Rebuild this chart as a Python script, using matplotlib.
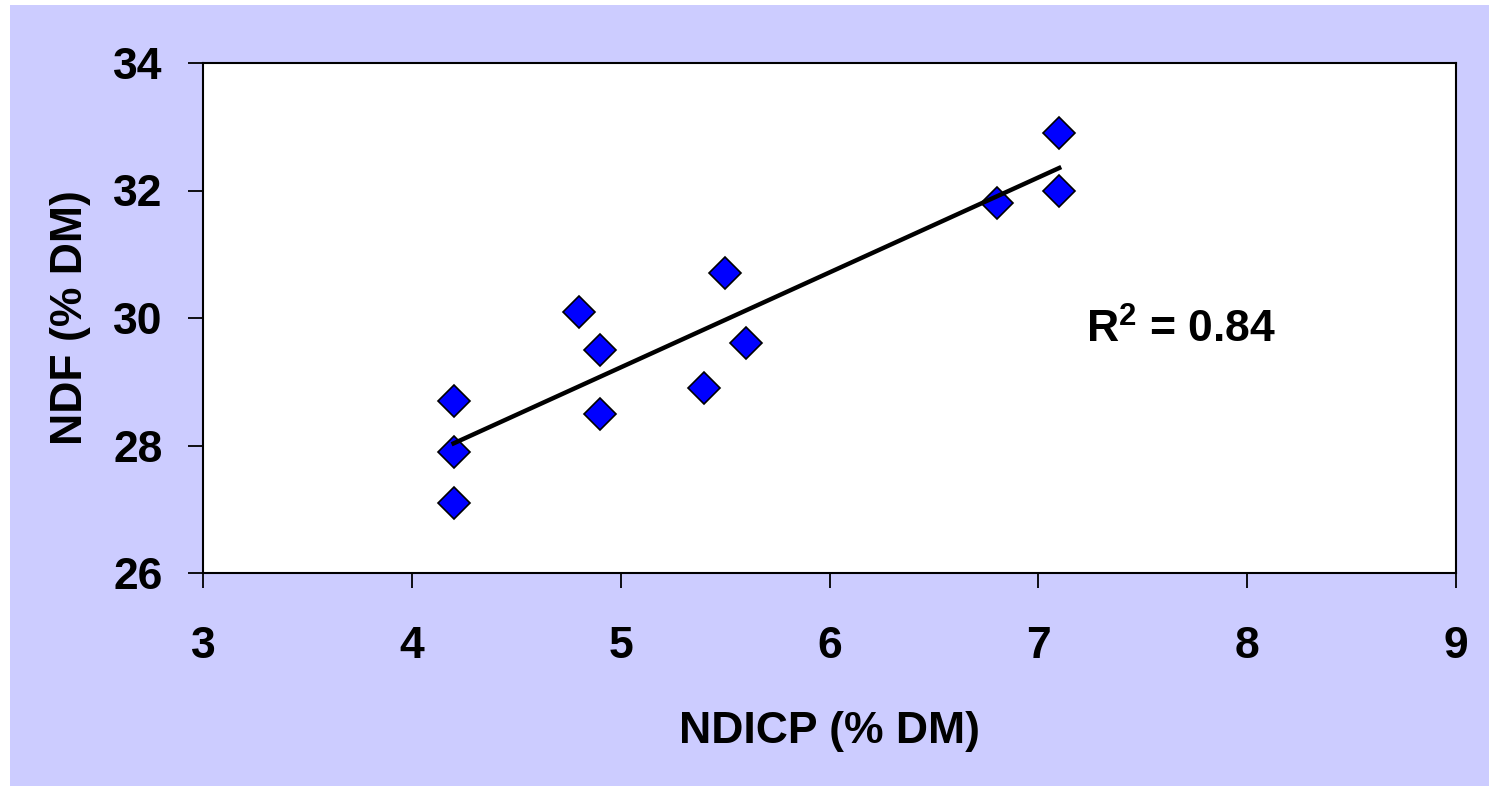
import numpy as np
import matplotlib
matplotlib.use('Agg')
import matplotlib.pyplot as plt
from matplotlib.patches import Rectangle

plt.rcParams['font.family'] = 'Liberation Sans'
plt.rcParams['font.weight'] = 'bold'
plt.rcParams['mathtext.fontset'] = 'custom'
plt.rcParams['mathtext.rm'] = 'Liberation Sans:bold'
plt.rcParams['mathtext.bf'] = 'Liberation Sans:bold'

# Dados
ndicp = [4.2, 4.2, 4.2, 4.8, 4.9, 4.9, 5.4, 5.5, 5.6, 6.8, 7.1, 7.1]
ndf = [28.7, 27.9, 27.1, 30.1, 29.5, 28.5, 28.9, 30.7, 29.6, 31.8, 32.9, 32.0]
x_ticks = [3, 4, 5, 6, 7, 8, 9]
y_ticks = [26, 28, 30, 32, 34]
r2_text = 'R$^{2}$ = 0.84'

fig = plt.figure(figsize=(14.89, 7.86), dpi=100)
fig.patch.set_facecolor('white')
fig.patches.append(Rectangle((10 / 1489, -0.01), 1, 1.01 - 5 / 786, transform=fig.transFigure,
                             facecolor='#CCCCFF', edgecolor='none', zorder=-1))

ax = fig.add_axes([203 / 1489, 1 - 573 / 786, (1456 - 203) / 1489, (573 - 63) / 786])
ax.set_facecolor('white')

ax.plot(ndicp, ndf, linestyle='none', marker='D', markersize=16.5,
        markerfacecolor='#0000FF', markeredgecolor='black', markeredgewidth=1.2, zorder=3)

# Linha de tendência linear
coef = np.polyfit(ndicp, ndf, 1)
xs = np.array([min(ndicp), max(ndicp)])
ax.plot(xs, np.polyval(coef, xs), color='black', linewidth=3.2, zorder=4)

ax.text(7.23, 29.62, r2_text, fontsize=32, fontweight='bold', va='baseline', ha='left')

ax.set_xlim(3, 9)
ax.set_ylim(26, 34)
ax.set_xticks(x_ticks)
ax.set_yticks(y_ticks)
ax.tick_params(direction='out', length=11, width=1.3, labelsize=32)
ax.tick_params(axis='y', pad=18)
ax.tick_params(axis='x', pad=27)
for s in ax.spines.values():
    s.set_linewidth(1.5)
    s.set_color('black')

ax.set_xlabel('NDICP (% DM)', fontsize=32, fontweight='bold', labelpad=32)
ax.set_ylabel('NDF (% DM)', fontsize=32, fontweight='bold', labelpad=16)

fig.savefig('out.png', dpi=100)
